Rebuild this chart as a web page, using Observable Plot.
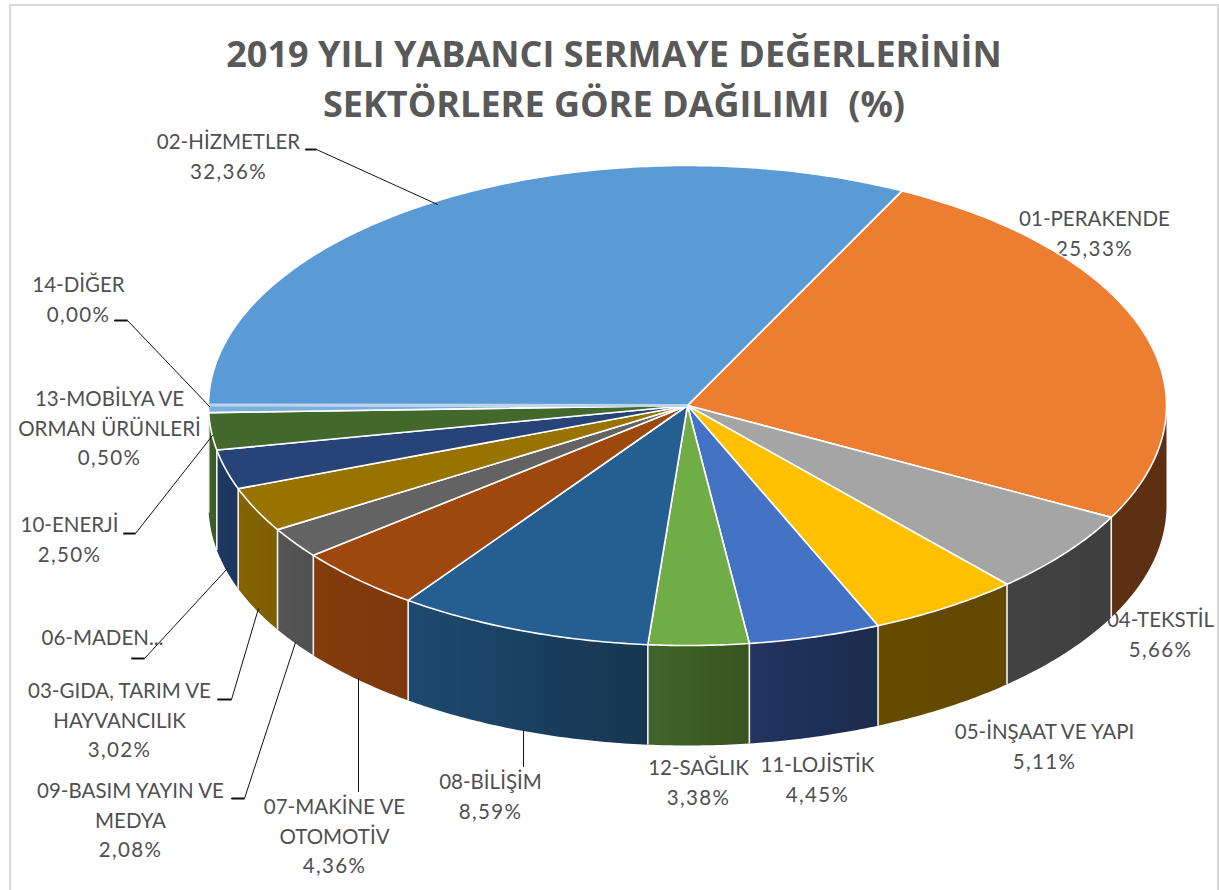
<!DOCTYPE html>
<html><head><meta charset="utf-8">
<script src="https://cdn.jsdelivr.net/npm/d3@7"></script>
<script src="https://cdn.jsdelivr.net/npm/@observablehq/plot@0.6"></script>
<style>
html,body{margin:0;padding:0;background:#fff;}
#frame{position:absolute;left:0;top:0;width:1219px;height:890px;overflow:hidden;}
#border{position:absolute;left:9px;top:4px;width:1206px;height:900px;border:2.5px solid #d9d9d9;}
#title{position:absolute;left:0;top:0;width:1228px;height:130px;margin:0;text-align:center;
 font:700 36px/50px "Open Sans",sans-serif;color:#595959;padding-top:29px;box-sizing:border-box;white-space:pre;}
#chart{position:absolute;left:0;top:130px;}
.pct text{letter-spacing:1.4px;}
</style></head><body>
<div id="frame"><div id="border"></div>
<h1 id="title">2019 YILI YABANCI SERMAYE DEĞERLERİNİN
SEKTÖRLERE GÖRE DAĞILIMI  (%)</h1>
<div id="chart"></div></div>
<script>
const names=["01-PERAKENDE","04-TEKSTİL","05-İNŞAAT VE YAPI","11-LOJİSTİK","12-SAĞLIK","08-BİLİŞİM","07-MAKİNE VE OTOMOTİV","09-BASIM YAYIN VE MEDYA","03-GIDA, TARIM VE HAYVANCILIK","06-MADEN","10-ENERJİ","13-MOBİLYA VE ORMAN ÜRÜNLERİ","14-DİĞER","02-HİZMETLER"];
const values=[25.33,5.66,5.11,4.45,3.38,8.59,4.36,2.08,3.02,2.66,2.50,0.50,0.00,32.36];
const topColors=["#ED7D31","#A5A5A5","#FFC000","#4472C4","#70AD47","#255E91","#9E480E","#636363","#997300","#264478","#43682B","#7CAFDD","#BDD5EC","#5B9BD5"];
const wallLeft=["#5E3013","#434343","#664B00","#223560","#41652B","#1D4A70","#843C0C","#555555","#846300","#1F3864","#3F5F27","#5B9BD5","#5B9BD5","#5B9BD5"];
const wallRight=["#5E3013","#3E3E3E","#624800","#1A2B4C","#38541F","#163650","#7C380B","#505050","#7E5F00","#1C3560","#3B5925","#5B9BD5","#5B9BD5","#5B9BD5"];

// text labels: lines, page x centre, page y centre of the first line
const labelLines=[
 [["01-PERAKENDE","25,33%"],1094,219],
 [["02-HİZMETLER","32,36%"],228,142],
 [["14-DİĞER","0,00%"],78,285],
 [["13-MOBİLYA VE","ORMAN ÜRÜNLERİ","0,50%"],109,399],
 [["10-ENERJİ","2,50%"],69,525],
 [["06-MADEN..."],102,638],
 [["03-GIDA, TARIM VE","HAYVANCILIK","3,02%"],119,691],
 [["09-BASIM YAYIN VE","MEDYA","2,08%"],130,791],
 [["07-MAKİNE VE","OTOMOTİV","4,36%"],334,807],
 [["08-BİLİŞİM","8,59%"],490,782],
 [["12-SAĞLIK","3,38%"],698,768],
 [["11-LOJİSTİK","4,45%"],817,765],
 [["05-İNŞAAT VE YAPI","5,11%"],1044,732],
 [["04-TEKSTİL","5,66%"],1160,620]
];
const leaders=[
 [[305,149],[316,149],[437,204]],
 [[114,320],[127,320],[209,406]],
 [[123,533],[135,533],[212,435]],
 [[131,658],[144,658],[227,568]],
 [[217,699],[231,699],[258,608]],
 [[231,798],[244,798],[295,642]],
 [[358,678],[358,791]],
 [[523,730],[523,766]]
];

const cx=687, cy=405, rx=479, ry=240, depth=100, startDeg=26.6;
const lineH=29.6;

const arcs=d3.pie().sort(null).value((d,i)=>values[i]).startAngle(startDeg*Math.PI/180).endAngle((startDeg+360)*Math.PI/180)(names);
const px=a=>cx+rx*Math.sin(a), py=a=>cy-ry*Math.cos(a);
function arcAngles(a0,a1){const n=Math.max(2,Math.ceil((a1-a0)/0.01));return d3.range(n+1).map(i=>a0+(a1-a0)*i/n);}

const topPts=[],wallPts=[],seams=[],zeroSlices=[];
arcs.forEach((s,i)=>{
  const name=names[i];
  topPts.push({x:cx,y:cy,name,fill:topColors[i]});
  arcAngles(s.startAngle,s.endAngle).forEach(a=>topPts.push({x:px(a),y:py(a),name,fill:topColors[i]}));
  if(values[i]===0) zeroSlices.push({x2:px(s.startAngle),y2:py(s.startAngle),stroke:topColors[i]});
  // visible front wall: angle between PI/2 and 3PI/2 (mod 2PI)
  const lo=Math.max(s.startAngle,Math.PI/2), hi=Math.min(s.endAngle,Math.PI*1.5);
  if(hi>lo){
    const as=arcAngles(lo,hi), f=`url(#wall${i})`;
    as.forEach(a=>wallPts.push({x:px(a),y:py(a),name,fill:f}));
    as.slice().reverse().forEach(a=>wallPts.push({x:px(a),y:py(a)+depth,name,fill:f}));
    if(s.endAngle<=Math.PI*1.5) seams.push({x:px(hi),y1:py(hi),y2:py(hi)+depth});
  }
});

const textRows=labelLines.flatMap(([lines,x,y])=>lines.map((t,k)=>({t,x,y:y+k*lineH})));
const isPct=r=>r.t.endsWith("%");
const leaderPts=leaders.flatMap((l,i)=>l.map(p=>({x:p[0],y:p[1],i})));
const stubs=leaders.filter(l=>l.length===3).map(l=>({x1:l[0][0],x2:l[1][0],y:l[0][1]}));

const W=1219,H=760;
const textOpts={x:"x",y:"y",text:"t",fontFamily:"Lato",fill:"#505050",textAnchor:"middle",lineAnchor:"middle"};
const svg=Plot.plot({
  width:W,height:H,margin:0,
  x:{domain:[0,W],range:[0,W],axis:null},
  y:{domain:[130,890],range:[0,H],axis:null},
  style:{background:"transparent",overflow:"visible"},
  marks:[
    Plot.text(textRows.filter(r=>!isPct(r)),{...textOpts,fontSize:20.5}),
    Plot.text(textRows.filter(isPct),{...textOpts,fontSize:20.5,className:"pct"}),
    Plot.line(wallPts,{x:"x",y:"y",z:"name",fill:{value:"fill",scale:null},stroke:"none",curve:"linear-closed"}),
    Plot.link(seams,{x1:"x",x2:"x",y1:"y1",y2:"y2",stroke:"#f2f2f2",strokeWidth:1.6}),
    Plot.line(topPts,{x:"x",y:"y",z:"name",fill:{value:"fill",scale:null},stroke:"white",strokeWidth:1.6,curve:"linear-closed"}),
    Plot.link(zeroSlices,{x1:()=>cx,y1:()=>cy,x2:"x2",y2:"y2",stroke:{value:"stroke",scale:null},strokeWidth:3}),
    Plot.line(leaderPts,{x:"x",y:"y",z:"i",stroke:"#111",strokeWidth:1,curve:"linear"}),
    Plot.link(stubs,{x1:"x1",x2:"x2",y1:"y",y2:"y",stroke:"#111",strokeWidth:2})
  ]
});
const defs=d3.select(svg).insert("defs",":first-child");
wallLeft.forEach((c,i)=>{
  const g=defs.append("linearGradient").attr("id","wall"+i).attr("x1",0).attr("x2",1).attr("y1",0).attr("y2",0);
  g.append("stop").attr("offset",0).attr("stop-color",c);
  g.append("stop").attr("offset",1).attr("stop-color",wallRight[i]);
});
document.getElementById("chart").append(svg);
</script>
</body></html>
